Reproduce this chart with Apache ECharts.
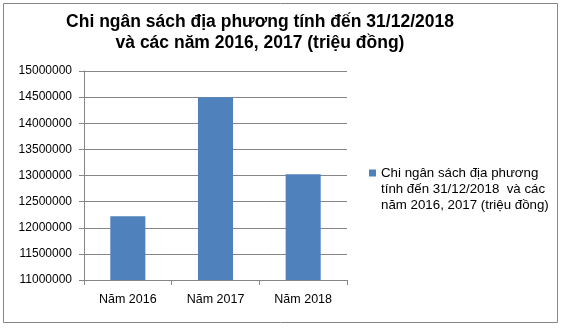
<!DOCTYPE html>
<html>
<head>
<meta charset="utf-8">
<script src="https://cdn.jsdelivr.net/npm/echarts@6/dist/echarts.min.js"></script>
<style>
html,body{margin:0;padding:0;background:#fff;}
#c{width:562px;height:328px;}
</style>
</head>
<body>
<div id="c"></div>
<script>
var categories = ['Năm 2016', 'Năm 2017', 'Năm 2018'];
var values = [12220000, 14500000, 13025000];
var seriesName = 'Chi ngân sách địa phương tính đến 31/12/2018 và các năm 2016, 2017 (triệu đồng)';
var legendLines = ['Chi ngân sách địa phương', 'tính đến 31/12/2018  và các', 'năm 2016, 2017 (triệu đồng)'];
var titleText = 'Chi ngân sách địa phương tính đến 31/12/2018\nvà các năm 2016, 2017 (triệu đồng)';
var yMin = 11000000, yMax = 15000000, yStep = 500000;

var chart = echarts.init(document.getElementById('c'), null, {renderer: 'canvas'});
chart.setOption({
  animation: false,
  backgroundColor: '#fff',
  title: {
    text: titleText,
    left: 260,
    top: 12,
    padding: 0,
    textAlign: 'center',
    textStyle: {fontFamily: 'Liberation Sans, Arial', fontWeight: 'bold', fontSize: 17.5, lineHeight: 21, color: '#000'}
  },
  graphic: [{
    type: 'rect', silent: true,
    shape: {x: 3.5, y: 3.5, width: 554, height: 319},
    style: {fill: 'none', stroke: '#868686', lineWidth: 1}
  }],
  legend: {
    left: 369,
    top: 133,
    padding: 0,
    orient: 'vertical',
    icon: 'rect',
    itemWidth: 7,
    itemHeight: 7,
    itemGap: 0,
    formatter: function () { return '\n\n' + legendLines.join('\n'); },
    textStyle: {fontFamily: 'Liberation Sans, Arial', fontSize: 13.3, lineHeight: 16, color: '#000'},
    data: [seriesName]
  },
  grid: {left: 84, right: 215, top: 71, bottom: 48, containLabel: false},
  xAxis: {
    type: 'category',
    data: categories,
    axisLine: {lineStyle: {color: '#868686', width: 1}},
    axisTick: {show: true, length: 5, lineStyle: {color: '#868686'}},
    axisLabel: {fontFamily: 'Liberation Sans, Arial', fontSize: 12.5, color: '#000', margin: 13}
  },
  yAxis: {
    type: 'value',
    min: yMin, max: yMax, interval: yStep,
    axisLine: {show: true, lineStyle: {color: '#868686', width: 1}},
    axisTick: {show: true, length: 5, lineStyle: {color: '#868686'}},
    splitLine: {lineStyle: {color: '#868686', width: 1}},
    axisLabel: {fontFamily: 'Liberation Sans, Arial', fontSize: 12, color: '#000', margin: 12,
      formatter: function (v) { return String(v); }}
  },
  series: [{
    name: seriesName,
    type: 'bar',
    data: values,
    barWidth: '40%',
    itemStyle: {color: '#4f81bd'}
  }]
});
</script>
</body>
</html>
